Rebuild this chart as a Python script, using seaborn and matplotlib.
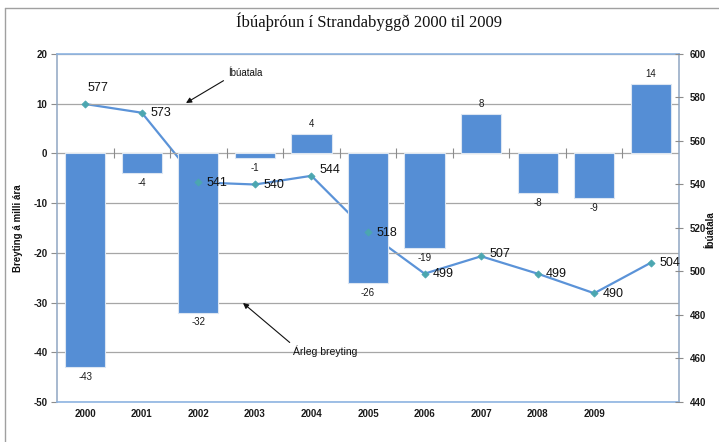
import matplotlib
matplotlib.use("Agg")
import matplotlib.pyplot as plt
from matplotlib.lines import Line2D
import seaborn as sns
import pandas as pd
import numpy as np

# ---- data ----
years = ["2000", "2001", "2002", "2003", "2004", "2005", "2006", "2007", "2008", "2009", "2010"]
tick_labels = ["2000", "2001", "2002", "2003", "2004", "2005", "2006", "2007", "2008", "2009", ""]
breyting = [-43, -4, -32, -1, 4, -26, -19, 8, -8, -9, 14]
ibuatala = [577, 573, 541, 540, 544, 518, 499, 507, 499, 490, 504]
left_ticks = [-50, -40, -30, -20, -10, 0, 10, 20]
right_ticks = [440, 460, 480, 500, 520, 540, 560, 580, 600]

title = "Íbúaþróun í Strandabyggð 2000 til 2009"
left_label = "Breyting á milli ára"
right_label = "Íbúatala"
note_line = "Íbúatala"
note_bars = "Árleg breyting"

# ---- style ----
sns.set_theme(style="white")
plt.rcParams["font.family"] = ["Liberation Sans", "DejaVu Sans"]

W, H = 719, 442
fig = plt.figure(figsize=(W / 100, H / 100), dpi=100)
fig.patch.set_facecolor("white")


def px(x, y):
    return (x / W, 1 - y / H)


ax_rect = [57 / W, 1 - 402 / H, (679 - 57) / W, (402 - 54) / H]
ax2 = fig.add_axes(ax_rect)          # line (behind bars)
ax = fig.add_axes(ax_rect)           # bars
ax3 = fig.add_axes(ax_rect)          # markers, labels, right axis
ax2.set_zorder(1)
ax.set_zorder(2)
ax3.set_zorder(3)
ax.patch.set_visible(False)
ax3.patch.set_visible(False)
ax2.patch.set_facecolor("white")

n = len(years)
pos = np.arange(n)
df = pd.DataFrame({"ar": years, "breyting": breyting, "ibuatala": ibuatala})

BAR = "#558ED5"
LINE = "#5B93D8"
MARK = "#4BA6B0"
GRID = "#A6A6A6"
TXT = "#1a1a1a"

# bars
sns.barplot(data=df, x="ar", y="breyting", order=years, color=BAR, saturation=1,
            width=0.71, edgecolor="#DCE6F2", linewidth=0.8, ax=ax, zorder=3)
ax.set_ylim(-50, 20)
ax.set_xlim(-0.5, n - 0.5)
ax.set_yticks(left_ticks)
ax.set_yticklabels([str(t) for t in left_ticks], fontsize=7, fontweight="bold", color=TXT)
ax.set_xticks(pos)
ax.set_xticklabels(tick_labels, fontsize=7, fontweight="bold", color=TXT)
ax.tick_params(axis="x", length=0, pad=5)
ax.tick_params(axis="y", direction="out", length=4, width=0.8, color="#8C8C8C", pad=3, left=True)
ax.set_xlabel("")
ax.set_ylabel("")
ax.yaxis.grid(True, color=GRID, linewidth=0.9, zorder=0)
ax.xaxis.grid(False)
ax.set_axisbelow(True)
for side in ["top", "bottom"]:
    ax.spines[side].set_color("#8DB4E2")
    ax.spines[side].set_linewidth(1.2)
for side in ["left", "right"]:
    ax.spines[side].set_color("#8FA6C2")
    ax.spines[side].set_linewidth(1.1)

# category separators on zero line
ax.plot(pos[:-1] + 0.5, np.zeros(n - 1), ls="none", marker="|", ms=7, mew=0.8,
        color="#8C8C8C", zorder=4)

# bar labels
ax.bar_label(ax.containers[0], labels=[str(v) for v in breyting], padding=3.5,
             fontsize=7, color=TXT)

# line (behind bars)
sns.lineplot(x=pos, y=ibuatala, ax=ax2, color=LINE, linewidth=1.6)
ax2.set_ylim(440, 600)
ax2.set_xlim(-0.5, n - 0.5)
ax2.set_xticks([])
ax2.set_yticks([])
for s in ax2.spines.values():
    s.set_visible(False)

# markers + labels on top
sns.scatterplot(x=pos, y=ibuatala, ax=ax3, marker="D", s=13, color=MARK,
                edgecolor=MARK, linewidth=0.6)
ax3.set_ylim(440, 600)
ax3.set_xlim(-0.5, n - 0.5)
ax3.set_xticks([])
ax3.yaxis.tick_right()
ax3.set_yticks(right_ticks)
ax3.set_yticklabels([str(t) for t in right_ticks], fontsize=7, fontweight="bold", color=TXT)
ax3.tick_params(axis="y", direction="inout", length=6, width=0.8, color="#8C8C8C", pad=5, right=True)
for s in ax3.spines.values():
    s.set_visible(False)

special = {0: ((9, 7), "center", "bottom"), 4: ((6, 4), "left", "center"),
           7: ((6, 1.5), "left", "center")}
for i, v in enumerate(ibuatala):
    off, ha, va = special.get(i, ((6, -0.5), "left", "center"))
    ax3.annotate(str(v), xy=(i, v), xytext=off, textcoords="offset points",
                 ha=ha, va=va, fontsize=9, color="#111111")

# title and axis titles
fig.text(*px(369, 22), title, ha="center", va="center", fontsize=12,
         family=["Liberation Serif", "DejaVu Serif"], color="#111111")
fig.text(*px(18, 228), left_label, rotation=90, ha="center", va="center",
         fontsize=7, fontweight="bold", color="#111111")
fig.text(*px(711, 230), right_label, rotation=90, ha="center", va="center",
         fontsize=7, fontweight="bold", color="#111111")

# annotations with arrows
ax3.annotate(note_line, xy=px(186, 103), xycoords="figure fraction",
             xytext=px(228, 73), textcoords="figure fraction",
             ha="left", va="center", fontsize=7, color="#111111", annotation_clip=False,
             arrowprops=dict(arrowstyle="-|>", color="#111111", lw=0.8,
                             mutation_scale=8, relpos=(0, 0), shrinkA=1, shrinkB=0))
ax3.annotate(note_bars, xy=px(243, 303), xycoords="figure fraction",
             xytext=px(293, 351), textcoords="figure fraction",
             ha="left", va="center", fontsize=7.5, color="#111111", annotation_clip=False,
             arrowprops=dict(arrowstyle="-|>", color="#111111", lw=0.8,
                             mutation_scale=8, relpos=(0, 1), shrinkA=0, shrinkB=0))

# outer chart border (left and top visible)
fig.add_artist(Line2D([5 / W, 5 / W], [0, 1 - 8 / H], color="#A0A0A0", lw=1.0))
fig.add_artist(Line2D([5 / W, 1], [1 - 8 / H, 1 - 8 / H], color="#A0A0A0", lw=1.0))

fig.savefig("out.png", dpi=100, facecolor="white")
